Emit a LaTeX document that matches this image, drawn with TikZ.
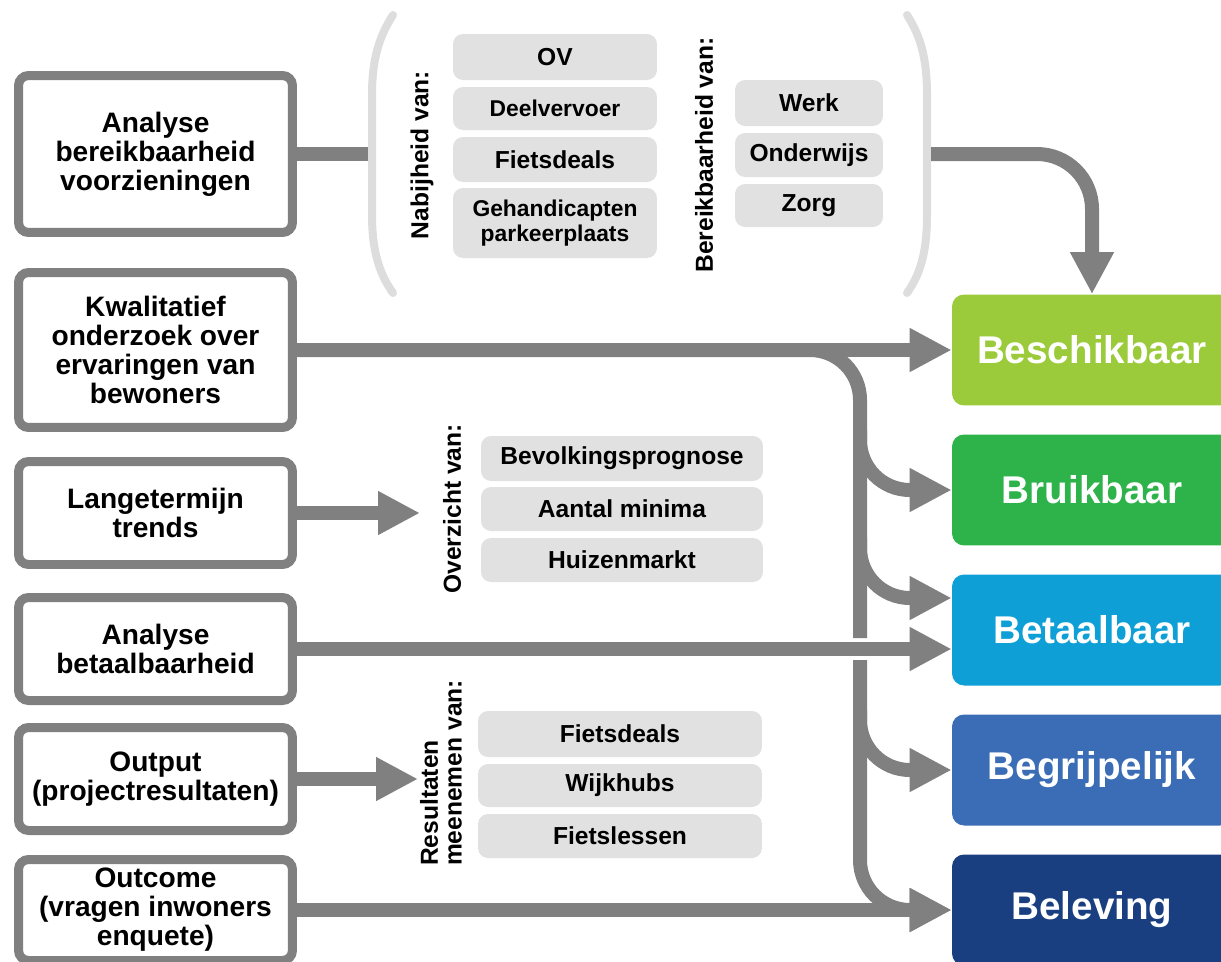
\documentclass[tikz,border=0pt]{standalone}
\usepackage{fontspec}
\setmainfont{Liberation Sans}
\usetikzlibrary{arrows.meta, positioning}
\definecolor{flowgrey}{RGB}{128,128,128}
\definecolor{itemgrey}{RGB}{225,225,225}
\definecolor{parengrey}{RGB}{221,221,221}
\definecolor{klime}{RGB}{155,203,59}
\definecolor{kgreen}{RGB}{45,179,74}
\definecolor{kcyan}{RGB}{14,159,215}
\definecolor{kblue}{RGB}{58,109,181}
\definecolor{knavy}{RGB}{26,63,129}
\tikzset{src/.style={draw=flowgrey, line width=0.18cm, rounded corners=0.2cm, fill=white, minimum width=5.48cm, align=center, font=\fontsize{16}{16.5}\selectfont\bfseries}}
\tikzset{tgt/.style={rounded corners=0.24cm, minimum width=5.6cm, minimum height=2.22cm, text=white, font=\fontsize{22}{24}\selectfont\bfseries}}
\tikzset{item/.style={fill=itemgrey, rounded corners=0.2cm, align=center, inner sep=0pt, font=\fontsize{14}{14.2}\selectfont\bfseries}}
\tikzset{lbl/.style={rotate=90, align=left, inner sep=0pt, font=\fontsize{14}{13.6}\selectfont\bfseries}}
\tikzset{fedge/.style={draw=flowgrey, line width=0.28cm}}
\tikzset{aedge/.style={fedge, -{Triangle[length=0.84cm, width=0.82cm]}}}
\tikzset{paren/.style={draw=parengrey, line width=0.16cm, line cap=round}}

\begin{document}
\begin{tikzpicture}[x=0.02cm, y=-0.02cm]
    \useasboundingbox (0,0) rectangle (1221,961);

    % bronnen
    \node[src, minimum height=3.14cm] (Sa) at (155.5,154) {Analyse\\bereikbaarheid\\voorzieningen};
    \node[src, minimum height=3.10cm] (Sb) at (155.5,350) {Kwalitatief\\onderzoek over\\ervaringen van\\bewoners};
    \node[src, minimum height=2.06cm] (Sc) at (155.5,513) {Langetermijn\\trends};
    \node[src, minimum height=2.06cm] (Sd) at (155.5,649) {Analyse\\betaalbaarheid};
    \node[src, minimum height=2.06cm] (Se) at (155.5,779) {Output\\(projectresultaten)};
    \node[src, minimum height=2.02cm] (Sf) at (155.5,910) {Outcome\\(vragen inwoners\\enquete)};

    % doelen
    \node[tgt, fill=klime] (Ta) at (1092,350) {Beschikbaar};
    \node[tgt, fill=kgreen] (Tb) at (1092,490) {Bruikbaar};
    \node[tgt, fill=kcyan] (Tc) at (1092,630) {Betaalbaar};
    \node[tgt, fill=kblue] (Td) at (1092,770) {Begrijpelijk};
    \node[tgt, fill=knavy] (Te) at (1092,910) {Beleving};

    % haakjes
    \draw[paren] (393,15) .. controls (378,38) and (372,62) .. (372,95) -- (372,215) .. controls (372,248) and (378,272) .. (393,293);
    \draw[paren] (907,15) .. controls (922,38) and (927,62) .. (927,95) -- (927,215) .. controls (927,248) and (922,272) .. (907,293);

    % labels
    \node[lbl] (La) at (422,155) {Nabijheid van:};
    \node[lbl] (Lb) at (704,155) {Bereikbaarheid van:};
    \node[lbl] (Lc) at (452,509) {Overzicht van:};
    \node[lbl] (Ld) at (441,773) {Resultaten\\meenemen van:};

    \node[item, minimum width=4.08cm, minimum height=0.92cm] (Ia) at (555,57) {OV};
    \node[item, minimum width=4.08cm, minimum height=0.86cm, font=\fontsize{13}{14}\selectfont\bfseries] (Ib) at (555,108.5) {Deelvervoer};
    \node[item, minimum width=4.08cm, minimum height=0.90cm] (Ic) at (555,159.5) {Fietsdeals};
    \node[item, minimum width=4.08cm, minimum height=1.40cm, font=\fontsize{13}{14.2}\selectfont\bfseries] (Id) at (555,223) {Gehandicapten\\parkeerplaats};

    \node[item, minimum width=2.96cm, minimum height=0.92cm] (Ie) at (809,103) {Werk};
    \node[item, minimum width=2.96cm, minimum height=0.88cm] (If) at (809,155) {Onderwijs};
    \node[item, minimum width=2.96cm, minimum height=0.86cm] (Ig) at (809,205.5) {Zorg};

    \node[item, minimum width=5.64cm, minimum height=0.90cm] (Ih) at (622,458.5) {Bevolkingsprognose};
    \node[item, minimum width=5.64cm, minimum height=0.88cm] (Ii) at (622,509) {Aantal minima};
    \node[item, minimum width=5.64cm, minimum height=0.88cm] (Ij) at (622,560) {Huizenmarkt};

    \node[item, minimum width=5.68cm, minimum height=0.92cm] (Ik) at (620,734) {Fietsdeals};
    \node[item, minimum width=5.68cm, minimum height=0.86cm] (Il) at (620,785.5) {Wijkhubs};
    \node[item, minimum width=5.68cm, minimum height=0.88cm] (Im) at (620,836) {Fietslessen};

    % vaste punten
    \coordinate (Pl) at (368,154);
    \coordinate (Pr) at (931,154);
    \coordinate (Ga) at (860,638);
    \coordinate (Gb) at (860,660);
    \coordinate (Ba) at (860,430);
    \coordinate (Bb) at (860,538);
    \coordinate (Bc) at (860,710);
    \coordinate (Ca) at (420,513);
    \coordinate (Cb) at (418,779);

    % verbindingen
    \draw[fedge] (Sa.east) -- (Pl);
    \draw[aedge, rounded corners=1.1cm] (Pr) -| (Ta.north);
    \draw[aedge] (Sb.east) -- (Ta.west);
    \draw[fedge, rounded corners=1cm] (Sb.east) -| (Ga);
    \draw[aedge, rounded corners=1cm] (Gb) |- (Te.west);
    \draw[aedge, rounded corners=1cm] (Ba) |- (Tb.west);
    \draw[aedge, rounded corners=1cm] (Bb) |- ([yshift=0.64cm]Tc.west);
    \draw[aedge, rounded corners=1cm] (Bc) |- (Td.west);
    \draw[aedge] (Sd.east) -- (Sd.east -| Tc.west);
    \draw[aedge] (Sf.east) -- (Te.west);
    \draw[aedge] (Sc.east) -- (Sc.east -| Ca);
    \draw[aedge] (Se.east) -- (Se.east -| Cb);
\end{tikzpicture}
\end{document}
